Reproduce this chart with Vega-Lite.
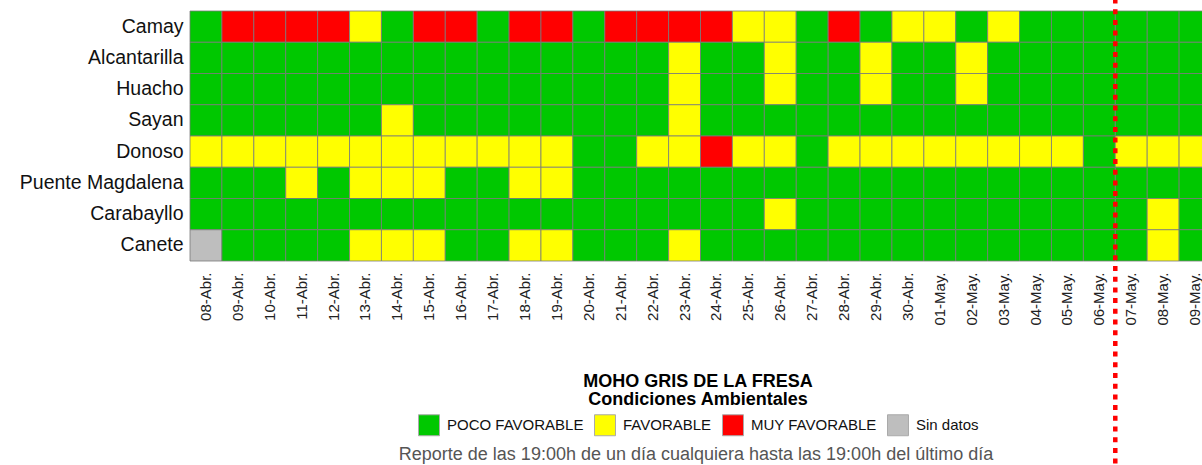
{
  "$schema": "https://vega.github.io/schema/vega-lite/v6.json",
  "width": 1012,
  "height": 250,
  "autosize": {"type": "none"},
  "padding": {"left": 190, "top": 11, "right": 0, "bottom": 204},
  "background": "white",
  "config": {"view": {"stroke": null}, "font": "Liberation Sans"},
  "title": {
    "text": "Reporte de las 19:00h de un día cualquiera hasta las 19:00h del último día",
    "orient": "bottom",
    "anchor": "middle",
    "frame": "group",
    "fontSize": 18,
    "fontWeight": "normal",
    "color": "#555555",
    "offset": -22
  },
  "layer": [
    {
      "data": {
        "values": [
          {"e":"Camay","f":"08-Abr.","c":"P"},{"e":"Camay","f":"09-Abr.","c":"M"},{"e":"Camay","f":"10-Abr.","c":"M"},{"e":"Camay","f":"11-Abr.","c":"M"},{"e":"Camay","f":"12-Abr.","c":"M"},{"e":"Camay","f":"13-Abr.","c":"F"},{"e":"Camay","f":"14-Abr.","c":"P"},{"e":"Camay","f":"15-Abr.","c":"M"},{"e":"Camay","f":"16-Abr.","c":"M"},{"e":"Camay","f":"17-Abr.","c":"P"},{"e":"Camay","f":"18-Abr.","c":"M"},{"e":"Camay","f":"19-Abr.","c":"M"},{"e":"Camay","f":"20-Abr.","c":"P"},{"e":"Camay","f":"21-Abr.","c":"M"},{"e":"Camay","f":"22-Abr.","c":"M"},{"e":"Camay","f":"23-Abr.","c":"M"},{"e":"Camay","f":"24-Abr.","c":"M"},{"e":"Camay","f":"25-Abr.","c":"F"},{"e":"Camay","f":"26-Abr.","c":"F"},{"e":"Camay","f":"27-Abr.","c":"P"},{"e":"Camay","f":"28-Abr.","c":"M"},{"e":"Camay","f":"29-Abr.","c":"P"},{"e":"Camay","f":"30-Abr.","c":"F"},{"e":"Camay","f":"01-May.","c":"F"},{"e":"Camay","f":"02-May.","c":"P"},{"e":"Camay","f":"03-May.","c":"F"},{"e":"Camay","f":"04-May.","c":"P"},{"e":"Camay","f":"05-May.","c":"P"},{"e":"Camay","f":"06-May.","c":"P"},{"e":"Camay","f":"07-May.","c":"P"},{"e":"Camay","f":"08-May.","c":"P"},{"e":"Camay","f":"09-May.","c":"P"},
          {"e":"Alcantarilla","f":"08-Abr.","c":"P"},{"e":"Alcantarilla","f":"09-Abr.","c":"P"},{"e":"Alcantarilla","f":"10-Abr.","c":"P"},{"e":"Alcantarilla","f":"11-Abr.","c":"P"},{"e":"Alcantarilla","f":"12-Abr.","c":"P"},{"e":"Alcantarilla","f":"13-Abr.","c":"P"},{"e":"Alcantarilla","f":"14-Abr.","c":"P"},{"e":"Alcantarilla","f":"15-Abr.","c":"P"},{"e":"Alcantarilla","f":"16-Abr.","c":"P"},{"e":"Alcantarilla","f":"17-Abr.","c":"P"},{"e":"Alcantarilla","f":"18-Abr.","c":"P"},{"e":"Alcantarilla","f":"19-Abr.","c":"P"},{"e":"Alcantarilla","f":"20-Abr.","c":"P"},{"e":"Alcantarilla","f":"21-Abr.","c":"P"},{"e":"Alcantarilla","f":"22-Abr.","c":"P"},{"e":"Alcantarilla","f":"23-Abr.","c":"F"},{"e":"Alcantarilla","f":"24-Abr.","c":"P"},{"e":"Alcantarilla","f":"25-Abr.","c":"P"},{"e":"Alcantarilla","f":"26-Abr.","c":"F"},{"e":"Alcantarilla","f":"27-Abr.","c":"P"},{"e":"Alcantarilla","f":"28-Abr.","c":"P"},{"e":"Alcantarilla","f":"29-Abr.","c":"F"},{"e":"Alcantarilla","f":"30-Abr.","c":"P"},{"e":"Alcantarilla","f":"01-May.","c":"P"},{"e":"Alcantarilla","f":"02-May.","c":"F"},{"e":"Alcantarilla","f":"03-May.","c":"P"},{"e":"Alcantarilla","f":"04-May.","c":"P"},{"e":"Alcantarilla","f":"05-May.","c":"P"},{"e":"Alcantarilla","f":"06-May.","c":"P"},{"e":"Alcantarilla","f":"07-May.","c":"P"},{"e":"Alcantarilla","f":"08-May.","c":"P"},{"e":"Alcantarilla","f":"09-May.","c":"P"},
          {"e":"Huacho","f":"08-Abr.","c":"P"},{"e":"Huacho","f":"09-Abr.","c":"P"},{"e":"Huacho","f":"10-Abr.","c":"P"},{"e":"Huacho","f":"11-Abr.","c":"P"},{"e":"Huacho","f":"12-Abr.","c":"P"},{"e":"Huacho","f":"13-Abr.","c":"P"},{"e":"Huacho","f":"14-Abr.","c":"P"},{"e":"Huacho","f":"15-Abr.","c":"P"},{"e":"Huacho","f":"16-Abr.","c":"P"},{"e":"Huacho","f":"17-Abr.","c":"P"},{"e":"Huacho","f":"18-Abr.","c":"P"},{"e":"Huacho","f":"19-Abr.","c":"P"},{"e":"Huacho","f":"20-Abr.","c":"P"},{"e":"Huacho","f":"21-Abr.","c":"P"},{"e":"Huacho","f":"22-Abr.","c":"P"},{"e":"Huacho","f":"23-Abr.","c":"F"},{"e":"Huacho","f":"24-Abr.","c":"P"},{"e":"Huacho","f":"25-Abr.","c":"P"},{"e":"Huacho","f":"26-Abr.","c":"F"},{"e":"Huacho","f":"27-Abr.","c":"P"},{"e":"Huacho","f":"28-Abr.","c":"P"},{"e":"Huacho","f":"29-Abr.","c":"F"},{"e":"Huacho","f":"30-Abr.","c":"P"},{"e":"Huacho","f":"01-May.","c":"P"},{"e":"Huacho","f":"02-May.","c":"F"},{"e":"Huacho","f":"03-May.","c":"P"},{"e":"Huacho","f":"04-May.","c":"P"},{"e":"Huacho","f":"05-May.","c":"P"},{"e":"Huacho","f":"06-May.","c":"P"},{"e":"Huacho","f":"07-May.","c":"P"},{"e":"Huacho","f":"08-May.","c":"P"},{"e":"Huacho","f":"09-May.","c":"P"},
          {"e":"Sayan","f":"08-Abr.","c":"P"},{"e":"Sayan","f":"09-Abr.","c":"P"},{"e":"Sayan","f":"10-Abr.","c":"P"},{"e":"Sayan","f":"11-Abr.","c":"P"},{"e":"Sayan","f":"12-Abr.","c":"P"},{"e":"Sayan","f":"13-Abr.","c":"P"},{"e":"Sayan","f":"14-Abr.","c":"F"},{"e":"Sayan","f":"15-Abr.","c":"P"},{"e":"Sayan","f":"16-Abr.","c":"P"},{"e":"Sayan","f":"17-Abr.","c":"P"},{"e":"Sayan","f":"18-Abr.","c":"P"},{"e":"Sayan","f":"19-Abr.","c":"P"},{"e":"Sayan","f":"20-Abr.","c":"P"},{"e":"Sayan","f":"21-Abr.","c":"P"},{"e":"Sayan","f":"22-Abr.","c":"P"},{"e":"Sayan","f":"23-Abr.","c":"F"},{"e":"Sayan","f":"24-Abr.","c":"P"},{"e":"Sayan","f":"25-Abr.","c":"P"},{"e":"Sayan","f":"26-Abr.","c":"P"},{"e":"Sayan","f":"27-Abr.","c":"P"},{"e":"Sayan","f":"28-Abr.","c":"P"},{"e":"Sayan","f":"29-Abr.","c":"P"},{"e":"Sayan","f":"30-Abr.","c":"P"},{"e":"Sayan","f":"01-May.","c":"P"},{"e":"Sayan","f":"02-May.","c":"P"},{"e":"Sayan","f":"03-May.","c":"P"},{"e":"Sayan","f":"04-May.","c":"P"},{"e":"Sayan","f":"05-May.","c":"P"},{"e":"Sayan","f":"06-May.","c":"P"},{"e":"Sayan","f":"07-May.","c":"P"},{"e":"Sayan","f":"08-May.","c":"P"},{"e":"Sayan","f":"09-May.","c":"P"},
          {"e":"Donoso","f":"08-Abr.","c":"F"},{"e":"Donoso","f":"09-Abr.","c":"F"},{"e":"Donoso","f":"10-Abr.","c":"F"},{"e":"Donoso","f":"11-Abr.","c":"F"},{"e":"Donoso","f":"12-Abr.","c":"F"},{"e":"Donoso","f":"13-Abr.","c":"F"},{"e":"Donoso","f":"14-Abr.","c":"F"},{"e":"Donoso","f":"15-Abr.","c":"F"},{"e":"Donoso","f":"16-Abr.","c":"F"},{"e":"Donoso","f":"17-Abr.","c":"F"},{"e":"Donoso","f":"18-Abr.","c":"F"},{"e":"Donoso","f":"19-Abr.","c":"F"},{"e":"Donoso","f":"20-Abr.","c":"P"},{"e":"Donoso","f":"21-Abr.","c":"P"},{"e":"Donoso","f":"22-Abr.","c":"F"},{"e":"Donoso","f":"23-Abr.","c":"F"},{"e":"Donoso","f":"24-Abr.","c":"M"},{"e":"Donoso","f":"25-Abr.","c":"F"},{"e":"Donoso","f":"26-Abr.","c":"F"},{"e":"Donoso","f":"27-Abr.","c":"P"},{"e":"Donoso","f":"28-Abr.","c":"F"},{"e":"Donoso","f":"29-Abr.","c":"F"},{"e":"Donoso","f":"30-Abr.","c":"F"},{"e":"Donoso","f":"01-May.","c":"F"},{"e":"Donoso","f":"02-May.","c":"F"},{"e":"Donoso","f":"03-May.","c":"F"},{"e":"Donoso","f":"04-May.","c":"F"},{"e":"Donoso","f":"05-May.","c":"F"},{"e":"Donoso","f":"06-May.","c":"P"},{"e":"Donoso","f":"07-May.","c":"F"},{"e":"Donoso","f":"08-May.","c":"F"},{"e":"Donoso","f":"09-May.","c":"F"},
          {"e":"Puente Magdalena","f":"08-Abr.","c":"P"},{"e":"Puente Magdalena","f":"09-Abr.","c":"P"},{"e":"Puente Magdalena","f":"10-Abr.","c":"P"},{"e":"Puente Magdalena","f":"11-Abr.","c":"F"},{"e":"Puente Magdalena","f":"12-Abr.","c":"P"},{"e":"Puente Magdalena","f":"13-Abr.","c":"F"},{"e":"Puente Magdalena","f":"14-Abr.","c":"F"},{"e":"Puente Magdalena","f":"15-Abr.","c":"F"},{"e":"Puente Magdalena","f":"16-Abr.","c":"P"},{"e":"Puente Magdalena","f":"17-Abr.","c":"P"},{"e":"Puente Magdalena","f":"18-Abr.","c":"F"},{"e":"Puente Magdalena","f":"19-Abr.","c":"F"},{"e":"Puente Magdalena","f":"20-Abr.","c":"P"},{"e":"Puente Magdalena","f":"21-Abr.","c":"P"},{"e":"Puente Magdalena","f":"22-Abr.","c":"P"},{"e":"Puente Magdalena","f":"23-Abr.","c":"P"},{"e":"Puente Magdalena","f":"24-Abr.","c":"P"},{"e":"Puente Magdalena","f":"25-Abr.","c":"P"},{"e":"Puente Magdalena","f":"26-Abr.","c":"P"},{"e":"Puente Magdalena","f":"27-Abr.","c":"P"},{"e":"Puente Magdalena","f":"28-Abr.","c":"P"},{"e":"Puente Magdalena","f":"29-Abr.","c":"P"},{"e":"Puente Magdalena","f":"30-Abr.","c":"P"},{"e":"Puente Magdalena","f":"01-May.","c":"P"},{"e":"Puente Magdalena","f":"02-May.","c":"P"},{"e":"Puente Magdalena","f":"03-May.","c":"P"},{"e":"Puente Magdalena","f":"04-May.","c":"P"},{"e":"Puente Magdalena","f":"05-May.","c":"P"},{"e":"Puente Magdalena","f":"06-May.","c":"P"},{"e":"Puente Magdalena","f":"07-May.","c":"P"},{"e":"Puente Magdalena","f":"08-May.","c":"P"},{"e":"Puente Magdalena","f":"09-May.","c":"P"},
          {"e":"Carabayllo","f":"08-Abr.","c":"P"},{"e":"Carabayllo","f":"09-Abr.","c":"P"},{"e":"Carabayllo","f":"10-Abr.","c":"P"},{"e":"Carabayllo","f":"11-Abr.","c":"P"},{"e":"Carabayllo","f":"12-Abr.","c":"P"},{"e":"Carabayllo","f":"13-Abr.","c":"P"},{"e":"Carabayllo","f":"14-Abr.","c":"P"},{"e":"Carabayllo","f":"15-Abr.","c":"P"},{"e":"Carabayllo","f":"16-Abr.","c":"P"},{"e":"Carabayllo","f":"17-Abr.","c":"P"},{"e":"Carabayllo","f":"18-Abr.","c":"P"},{"e":"Carabayllo","f":"19-Abr.","c":"P"},{"e":"Carabayllo","f":"20-Abr.","c":"P"},{"e":"Carabayllo","f":"21-Abr.","c":"P"},{"e":"Carabayllo","f":"22-Abr.","c":"P"},{"e":"Carabayllo","f":"23-Abr.","c":"P"},{"e":"Carabayllo","f":"24-Abr.","c":"P"},{"e":"Carabayllo","f":"25-Abr.","c":"P"},{"e":"Carabayllo","f":"26-Abr.","c":"F"},{"e":"Carabayllo","f":"27-Abr.","c":"P"},{"e":"Carabayllo","f":"28-Abr.","c":"P"},{"e":"Carabayllo","f":"29-Abr.","c":"P"},{"e":"Carabayllo","f":"30-Abr.","c":"P"},{"e":"Carabayllo","f":"01-May.","c":"P"},{"e":"Carabayllo","f":"02-May.","c":"P"},{"e":"Carabayllo","f":"03-May.","c":"P"},{"e":"Carabayllo","f":"04-May.","c":"P"},{"e":"Carabayllo","f":"05-May.","c":"P"},{"e":"Carabayllo","f":"06-May.","c":"P"},{"e":"Carabayllo","f":"07-May.","c":"P"},{"e":"Carabayllo","f":"08-May.","c":"F"},{"e":"Carabayllo","f":"09-May.","c":"P"},
          {"e":"Canete","f":"08-Abr.","c":"S"},{"e":"Canete","f":"09-Abr.","c":"P"},{"e":"Canete","f":"10-Abr.","c":"P"},{"e":"Canete","f":"11-Abr.","c":"P"},{"e":"Canete","f":"12-Abr.","c":"P"},{"e":"Canete","f":"13-Abr.","c":"F"},{"e":"Canete","f":"14-Abr.","c":"F"},{"e":"Canete","f":"15-Abr.","c":"F"},{"e":"Canete","f":"16-Abr.","c":"P"},{"e":"Canete","f":"17-Abr.","c":"P"},{"e":"Canete","f":"18-Abr.","c":"F"},{"e":"Canete","f":"19-Abr.","c":"F"},{"e":"Canete","f":"20-Abr.","c":"P"},{"e":"Canete","f":"21-Abr.","c":"P"},{"e":"Canete","f":"22-Abr.","c":"P"},{"e":"Canete","f":"23-Abr.","c":"F"},{"e":"Canete","f":"24-Abr.","c":"P"},{"e":"Canete","f":"25-Abr.","c":"P"},{"e":"Canete","f":"26-Abr.","c":"P"},{"e":"Canete","f":"27-Abr.","c":"P"},{"e":"Canete","f":"28-Abr.","c":"P"},{"e":"Canete","f":"29-Abr.","c":"P"},{"e":"Canete","f":"30-Abr.","c":"P"},{"e":"Canete","f":"01-May.","c":"P"},{"e":"Canete","f":"02-May.","c":"P"},{"e":"Canete","f":"03-May.","c":"P"},{"e":"Canete","f":"04-May.","c":"P"},{"e":"Canete","f":"05-May.","c":"P"},{"e":"Canete","f":"06-May.","c":"P"},{"e":"Canete","f":"07-May.","c":"P"},{"e":"Canete","f":"08-May.","c":"F"},{"e":"Canete","f":"09-May.","c":"P"}
        ]
      },
      "mark": {"type": "rect", "stroke": "#7a7a7a", "strokeWidth": 0.8},
      "encoding": {
        "x": {
          "field": "f", "type": "nominal",
          "sort": ["08-Abr.","09-Abr.","10-Abr.","11-Abr.","12-Abr.","13-Abr.","14-Abr.","15-Abr.","16-Abr.","17-Abr.","18-Abr.","19-Abr.","20-Abr.","21-Abr.","22-Abr.","23-Abr.","24-Abr.","25-Abr.","26-Abr.","27-Abr.","28-Abr.","29-Abr.","30-Abr.","01-May.","02-May.","03-May.","04-May.","05-May.","06-May.","07-May.","08-May.","09-May."],
          "scale": {"range": [0, 1021], "paddingInner": 0, "paddingOuter": 0},
          "axis": {"title": null, "labelAngle": 270, "labelFontSize": 15, "labelColor": "#222222", "ticks": false, "domain": false, "labelPadding": 11}
        },
        "y": {
          "field": "e", "type": "nominal",
          "sort": ["Camay","Alcantarilla","Huacho","Sayan","Donoso","Puente Magdalena","Carabayllo","Canete"],
          "scale": {"paddingInner": 0, "paddingOuter": 0},
          "axis": {"title": null, "labelFontSize": 19.5, "labelColor": "#111111", "ticks": false, "domain": false, "labelPadding": 7, "labelLimit": 300}
        },
        "color": {
          "field": "c", "type": "nominal",
          "scale": {"domain": ["P","F","M","S"], "range": ["#00C800","#FFFF00","#FF0000","#BEBEBE"]},
          "legend": {
            "orient": "none", "legendX": 228, "legendY": 362, "direction": "horizontal",
            "title": ["MOHO GRIS DE LA FRESA", "Condiciones Ambientales"],
            "titleFontSize": 18, "titleFontWeight": "bold", "titleColor": "#000000", "titleLimit": 500,
            "titleAnchor": "middle", "titleAlign": "center", "titleLineHeight": 18, "titlePadding": 5,
            "symbolType": "square", "symbolSize": 440, "symbolStrokeColor": "#aaaaaa", "symbolStrokeWidth": 1, "symbolOpacity": 1,
            "labelFontSize": 15, "labelColor": "#111111", "labelOffset": 7, "columnPadding": 8,
            "labelExpr": "datum.label == 'P' ? 'POCO FAVORABLE' : datum.label == 'F' ? 'FAVORABLE' : datum.label == 'M' ? 'MUY FAVORABLE' : 'Sin datos'"
          }
        }
      }
    },
    {
      "data": {"values": [{"f": "07-May.", "y1": 1.05, "y2": -0.82}]},
      "mark": {"type": "rule", "color": "#FF0000", "strokeWidth": 4.5, "strokeDash": [5, 5.7], "strokeCap": "butt"},
      "encoding": {
        "x": {
          "field": "f", "type": "nominal", "bandPosition": 0,
          "sort": ["08-Abr.","09-Abr.","10-Abr.","11-Abr.","12-Abr.","13-Abr.","14-Abr.","15-Abr.","16-Abr.","17-Abr.","18-Abr.","19-Abr.","20-Abr.","21-Abr.","22-Abr.","23-Abr.","24-Abr.","25-Abr.","26-Abr.","27-Abr.","28-Abr.","29-Abr.","30-Abr.","01-May.","02-May.","03-May.","04-May.","05-May.","06-May.","07-May.","08-May.","09-May."]
        },
        "y": {"field": "y1", "type": "quantitative", "scale": {"domain": [0, 1], "nice": false, "zero": false}, "axis": null},
        "y2": {"field": "y2"}
      }
    }
  ],
  "resolve": {"scale": {"y": "independent"}}
}
